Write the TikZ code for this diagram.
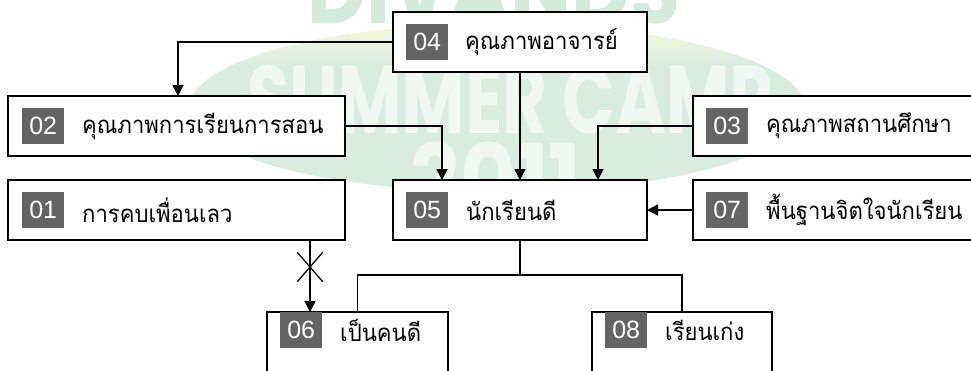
\documentclass[tikz,border=0pt]{standalone}
\usepackage{fontspec}
\newfontfamily\thaifont[Script=Thai, FakeStretch=0.92]{Loma}
\newfontfamily\numfont{Liberation Sans}
\newfontfamily\wmfont{Poppins}
\usetikzlibrary{arrows.meta,shapes.misc}
\definecolor{badgegray}{RGB}{100,100,100}
\definecolor{wmgreen}{RGB}{216,237,224}
\definecolor{wmlight}{RGB}{240,248,242}
\definecolor{wmtop}{RGB}{212,234,220}
\definecolor{wmyellow}{RGB}{249,249,216}
\begin{document}
\begin{tikzpicture}[x=1pt,y=-1pt,
 box/.style={draw=black, line width=1.8pt, fill=white, anchor=north west, inner sep=0pt, outer sep=0pt},
 badge/.style={fill=badgegray, text=white, font=\numfont\fontsize{25}{25}\selectfont, minimum width=42pt, minimum height=36pt, inner sep=0pt, anchor=west},
 lbl/.style={font=\thaifont\fontsize{24}{28}\selectfont, anchor=west, inner sep=0pt},
 conn/.style={line width=1.5pt, draw=black},
 arr/.style={conn, -{Triangle[length=11pt,width=11pt]}},
 wm/.style={font=\wmfont\bfseries\fontsize{96}{96}\selectfont, anchor=base, inner sep=0pt},
]
\useasboundingbox (0,0) rectangle (971,370);
\clip (0,0) rectangle (971,370);
% watermark
\begin{scope}
\clip (497,108) ellipse [x radius=308, y radius=84];
\fill[wmgreen] (180,20) rectangle (810,200);
\shade[top color=wmyellow, bottom color=wmgreen] (180,22) rectangle (810,66);
\end{scope}
\node[wm, text=wmtop] (wmdiv) at (494,23) {\scalebox{0.85}[1]{DIVANDS}};
\node[wm, text=wmlight] (wmsum) at (510,133) {\scalebox{0.72}[1]{SUMMER CAMP}};
\node[wm, text=wmlight] (wmyear) at (496,213) {\scalebox{0.9}[1]{2011}};
% boxes
\node[box, minimum width=254pt, minimum height=60pt] (b04) at (393,12) {};
\node[box, minimum width=337pt, minimum height=60pt] (b02) at (8,96) {};
\node[box, minimum width=330pt, minimum height=60pt] (b03) at (693,96) {};
\node[box, minimum width=337pt, minimum height=60pt] (b01) at (8,180) {};
\node[box, minimum width=254pt, minimum height=60pt] (b05) at (393,180) {};
\node[box, minimum width=330pt, minimum height=60pt] (b07) at (693,180) {};
\node[box, minimum width=181pt, minimum height=64pt] (b06) at (267,312) {};
\node[box, minimum width=180pt, minimum height=64pt] (b08) at (592,312) {};
% badges
\node[badge] (n04) at ([xshift=13pt]b04.west) {04};
\node[badge] (n02) at ([xshift=14pt]b02.west) {02};
\node[badge] (n03) at ([xshift=13pt]b03.west) {03};
\node[badge] (n01) at ([xshift=14pt]b01.west) {01};
\node[badge] (n05) at ([xshift=13pt]b05.west) {05};
\node[badge] (n07) at ([xshift=13pt]b07.west) {07};
\node[badge] (n06) at (267+13,330) {06};
\node[badge] (n08) at (592+13,330) {08};
% labels
\node[lbl] (t04) at ([xshift=72pt]b04.west) {คุณภาพอาจารย์};
\node[lbl] (t02) at ([xshift=74pt]b02.west) {คุณภาพการเรียนการสอน};
\node[lbl] (t03) at ([xshift=73pt]b03.west) {คุณภาพสถานศึกษา};
\node[lbl] (t01) at ([xshift=74pt]b01.west) {การคบเพื่อนเลว};
\node[lbl] (t05) at ([xshift=73pt]b05.west) {นักเรียนดี};
\node[lbl] (t07) at ([xshift=73pt]b07.west) {พื้นฐานจิตใจนักเรียน};
\node[lbl] (t06) at (267+73,330) {เป็นคนดี};
\node[lbl] (t08) at (592+73,330) {เรียนเก่ง};
% connectors
\coordinate (c02) at (178,96);
\coordinate (c05a) at (442,180);
\coordinate (c05c) at (598,180);
\coordinate (c01) at (310,240);
\coordinate (c06) at (310,312);
\coordinate (j) at (520,275);
\draw[arr] (b04.west) -| (c02);
\draw[arr] (b04.south) -- (b05.north);
\draw[arr] (b02.east) -| (c05a);
\draw[arr] (b03.west) -| (c05c);
\draw[arr] (b07.west) -- (b05.east);
\draw[arr] (c01) -- (c06);
\node[draw, cross out, line width=1.3pt, minimum width=24pt, minimum height=28pt, inner sep=0pt] (xmark) at (310,267) {};
\draw[conn] (b05.south) -- (j);
\draw[conn] (b06.north) |- (j) -| (b08.north);
\end{tikzpicture}
\end{document}
